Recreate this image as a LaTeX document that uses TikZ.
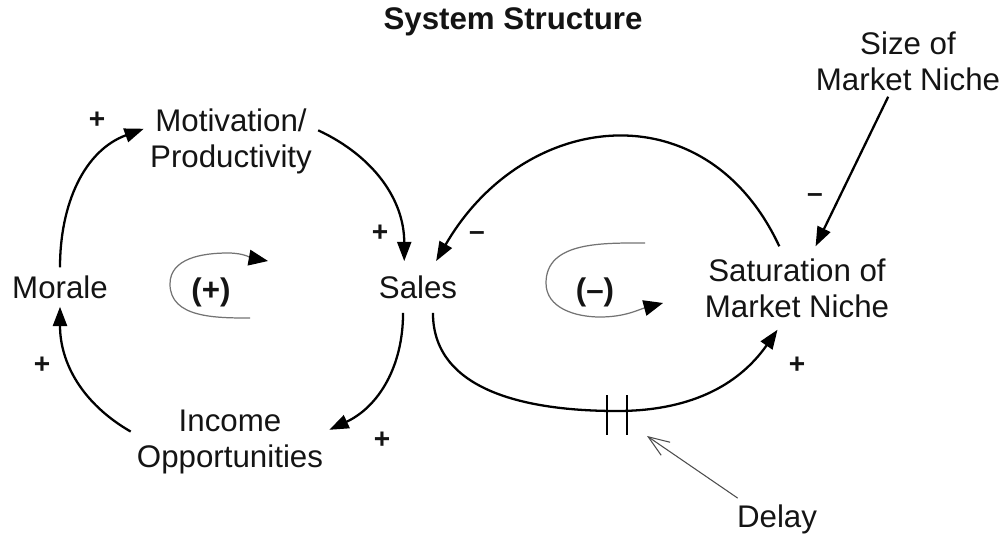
\documentclass[tikz,border=0pt]{standalone}
\usepackage{fontspec}
\setmainfont{Liberation Sans}
\usetikzlibrary{arrows.meta}

\begin{document}
\begin{tikzpicture}[x=0.02cm, y=0.02cm,
  every node/.style={font=\fontsize{17.8}{20.4}\selectfont, text=black!92},
  var/.style={align=center, inner sep=3.4pt},
  sign/.style={font=\fontsize{16}{18}\selectfont\bfseries, inner sep=0pt},
  link/.style={line width=1.3pt, -{Triangle[length=11pt,width=8pt]}},
  cyc/.style={line width=0.7pt, draw=black!55, -{Triangle[length=11pt,width=9pt,color=black]}},
  hatch/.style={line width=1.3pt},
  pointer/.style={line width=0.6pt, draw=black!70, -{Straight Barb[length=12pt,width=9pt]}}]

\useasboundingbox (0,0) rectangle (1000,-537);

\node[font={\fontsize{17.8}{20.4}\selectfont\bfseries}] (0) at (513,-22) {System Structure};

\node[var,inner ysep=4.5pt] (10) at (60,-287) {Morale};
\node[var] (20) at (231,-141) {Motivation/\\Productivity};
\node[var,inner ysep=8pt] (30) at (418,-287) {Sales};
\node[var] (40) at (230,-442) {Income\\Opportunities};
\node[var,inner ysep=6.8pt] (50) at (797,-288) {Saturation of\\Market Niche};
\node[var] (60) at (908,-61) {Size of\\Market Niche};
\node[var] (70) at (777,-519) {Delay};

\node[font={\fontsize{17.8}{20.4}\selectfont\bfseries}] (80) at (211,-292) {(+)};
\node[font={\fontsize{17.8}{20.4}\selectfont\bfseries}] (90) at (595,-292) {(–)};

\coordinate (75) at (617,-411);
\coordinate (76) at (647,-436);

%% reinforcing loop
\draw[link] (10.north) to[out=90,in=200] (20.172);
\draw[link] (20.7) to[out=-25,in=90] (30.118);
\draw[link] (30.-120) to[out=-90,in=25] (40.7);
\draw[link] (40.174) to[out=150,in=-90] (10.south);

%% balancing loop
\draw[link] (50.113) to[out=115,in=60,looseness=1.3] (30.55);
\draw[link] (30.-60) to[out=-90,in=180] (75) to[out=0,in=235] (50.245);
\draw[link] (60.241) -- (50.66);

\draw[hatch] (75) ++(-10,16) -- ++(0,-40);
\draw[hatch] (75) ++(10,16) -- ++(0,-40);
\draw[pointer] (70.152) -- (76);

\draw[cyc] (250,-318) to[out=180,in=-90] (170,-284) to[out=90,in=180] (228,-253) to[out=0,in=170] (268,-261);
\draw[cyc] (645,-243) to[out=180,in=90] (546,-283) to[out=-90,in=180] (600,-317) to[out=0,in=195] (663,-303);

\node[sign] (81) at (97,-120) {+};
\node[sign] (82) at (380,-233) {+};
\node[sign] (83) at (42,-365) {+};
\node[sign] (84) at (382,-440) {+};
\node[sign] (85) at (797,-365) {+};
\node[sign] (86) at (477,-236) {–};
\node[sign] (87) at (815,-198) {–};

\end{tikzpicture}
\end{document}
